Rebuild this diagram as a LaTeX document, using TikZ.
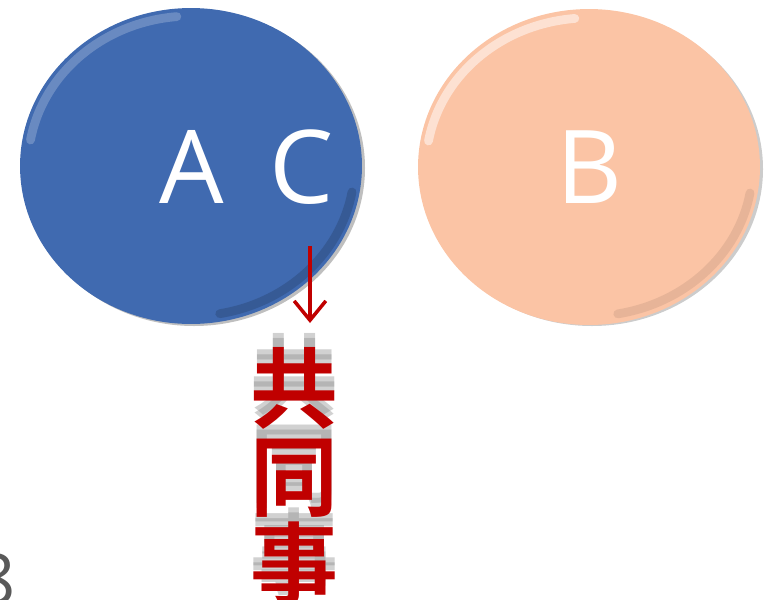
\documentclass[tikz,border=0pt]{standalone}
\usepackage{fontspec}
\setmainfont{Open Sans}
\newfontfamily\cjk[BoldFont={* Bold}]{Noto Sans CJK SC}
\usetikzlibrary{shapes.geometric, arrows.meta, positioning}
\definecolor{setblue}{RGB}{64,106,176}
\definecolor{setpeach}{RGB}{251,196,165}
\definecolor{darkred}{RGB}{192,0,0}
\definecolor{slidegray}{RGB}{89,89,89}
\tikzstyle{setnode} = [ellipse, minimum width=6.84cm, minimum height=6.32cm, inner sep=0pt]
\tikzstyle{letter} = [text=white, font=\fontsize{58}{60}\selectfont, anchor=base, inner sep=0pt]
\tikzstyle{hanzi} = [text=darkred, font=\cjk\bfseries\fontsize{50}{50}\selectfont, inner sep=0pt]
\tikzstyle{hanzishade} = [text=black!45, opacity=0.4, font=\cjk\bfseries\fontsize{50}{50}\selectfont, inner sep=0pt]
\tikzstyle{arrow} = [line width=2.2pt, darkred, -{Straight Barb[length=11pt, width=18pt, line width=2pt]}]
\tikzstyle{bevel} = [line width=5pt, line cap=round]

\begin{document}
\begin{tikzpicture}[x=0.02cm, y=-0.02cm]
    \useasboundingbox (0,0) rectangle (774,599);
    % the two sets
    \fill [black, opacity=0.25] (194,168) ellipse (171 and 158);
    \node (setA) [setnode, fill=setblue] at (191,166) {};
    \draw [bevel, white, opacity=0.22] (30.5,140) arc (190:265:163 and 150);
    \draw [bevel, black, opacity=0.15] (352,192) arc (10:80:163 and 150);
    \fill [black, opacity=0.2] (592,169) ellipse (171 and 157);
    \node (setB) [setnode, fill=setpeach] at (589,167) {};
    \draw [bevel, white, opacity=0.5] (428.5,141) arc (190:265:163 and 149);
    \draw [bevel, black, opacity=0.08] (750,193) arc (10:80:163 and 149);
    \node (labelA) [letter] at (192,203) {A};
    \node (labelC) [letter] at (302,203) {C};
    \node (labelB) [letter] at (590,203) {B};

    % shared part
    \coordinate (arrowtop) at (310,246);
    \coordinate (arrowend) at (310,323);
    \draw [arrow] (arrowtop) -- (arrowend);
    \foreach \dy in {-9,-14} {
        \node [hanzishade] at (294,388+\dy) {共};
        \node [hanzishade] at (294,478+\dy) {同};
        \node [hanzishade] at (294,563+\dy) {事};
    }
    \node (gong) [hanzi] at (294,388) {共};
    \node (tong) [hanzi] at (294,478) {同};
    \node (shi) [hanzi] at (294,563) {事};

    \node (pagenum) [text=slidegray, font=\fontsize{40}{40}\selectfont, anchor=north east, inner sep=0pt] at (16,553) {8};
\end{tikzpicture}
\end{document}
